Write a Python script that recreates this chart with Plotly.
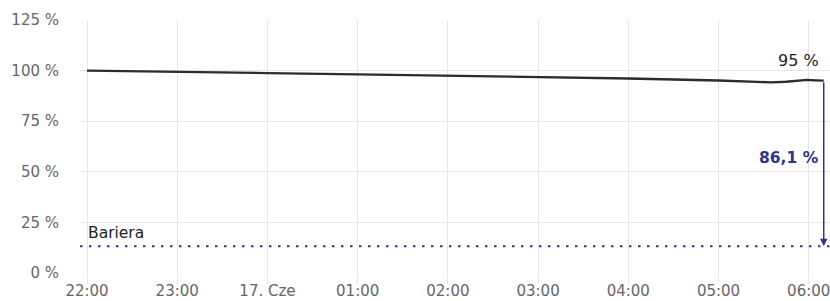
import plotly.graph_objects as go
import pandas as pd

# ---- data ----
times = ["2024-06-16 22:00", "2024-06-16 23:00", "2024-06-17 00:00", "2024-06-17 01:00",
         "2024-06-17 02:00", "2024-06-17 03:00", "2024-06-17 04:00", "2024-06-17 05:00",
         "2024-06-17 05:35", "2024-06-17 05:45", "2024-06-17 05:55", "2024-06-17 05:59",
         "2024-06-17 06:04", "2024-06-17 06:10"]
values = [100.0, 99.5, 98.8, 98.1, 97.5, 96.8, 96.1, 95.1, 94.2, 94.5, 95.0, 95.4, 95.2, 95.0]
barrier = 13.2
barrier_label = "Bariera"
last_label = "95 %"
distance_label = "86,1 %"

tick_vals = ["2024-06-16 22:00", "2024-06-16 23:00", "2024-06-17 00:00", "2024-06-17 01:00",
             "2024-06-17 02:00", "2024-06-17 03:00", "2024-06-17 04:00", "2024-06-17 05:00",
             "2024-06-17 06:00"]
tick_text = ["22:00", "23:00", "17. Cze", "01:00", "02:00", "03:00", "04:00", "05:00", "06:00"]
y_ticks = [0, 25, 50, 75, 100, 125]
y_tick_text = ["0 %", "25 %", "50 %", "75 %", "100 %", "125 %"]

x_range = ["2024-06-16 21:55:20", "2024-06-17 06:14:10"]

navy = "#2f3588"
font_family = "DejaVu Sans"

fig = go.Figure()
fig.add_trace(go.Scatter(
    x=pd.to_datetime(times), y=values, mode="lines",
    line=dict(color="#2b2b30", width=2.3), hoverinfo="skip", showlegend=False))

# barrier line
fig.add_shape(type="line", xref="paper", x0=0, x1=1, yref="y", y0=barrier, y1=barrier,
              line=dict(color=navy, width=2, dash="2.5px,6.5px"))

last_t = pd.to_datetime(times[-1])
last_v = values[-1]

# arrow from last value to barrier
fig.add_annotation(x=last_t, y=barrier, ax=last_t, ay=last_v, xref="x", yref="y",
                   axref="x", ayref="y", text="", showarrow=True, arrowhead=2,
                   arrowsize=1, arrowwidth=1.5, arrowcolor=navy, standoff=0, startstandoff=0)

fig.add_annotation(x=last_t, y=last_v, xref="x", yref="y", text=last_label, showarrow=False,
                   xanchor="right", yanchor="middle", xshift=-3, yshift=20,
                   font=dict(family=font_family, size=16, color="#222222"))
fig.add_annotation(x=last_t, y=(last_v + barrier) / 2, xref="x", yref="y", text="<b>" + distance_label + "</b>",
                   showarrow=False, xanchor="right", yanchor="middle", xshift=-3, yshift=6,
                   font=dict(family=font_family, size=15.5, color=navy))
fig.add_annotation(x=pd.to_datetime(times[0]), y=barrier, xref="x", yref="y", text=barrier_label,
                   showarrow=False, xanchor="left", yanchor="middle", xshift=-1, yshift=13,
                   font=dict(family=font_family, size=15.5, color="#222222"))

fig.update_layout(
    width=830, height=301,
    margin=dict(l=80, r=0, t=20, b=28, autoexpand=False),
    paper_bgcolor="white", plot_bgcolor="white",
    font=dict(family=font_family, size=15, color="#666666"),
    showlegend=False,
)
fig.update_xaxes(
    range=x_range, tickvals=pd.to_datetime(tick_vals), ticktext=tick_text,
    showgrid=True, gridcolor="#e6e6e6", gridwidth=1,
    ticks="outside", ticklen=10, tickcolor="#e6e6e6", tickwidth=1,
    showline=False, zeroline=False, automargin=False, ticklabelstandoff=-6,
    ticklabeloverflow="allow",
    tickfont=dict(family=font_family, size=15, color="#666666"),
)
fig.update_yaxes(
    range=[0, 125], tickvals=y_ticks, ticktext=y_tick_text,
    showgrid=True, gridcolor="#e6e6e6", gridwidth=1,
    zeroline=False, showline=False, ticklabelstandoff=20, automargin=False,
    ticklabeloverflow="allow",
    tickfont=dict(family=font_family, size=15, color="#666666"),
)

fig.write_html(
    "out.html",
    config={"displayModeBar": False},
    post_script="document.body.style.margin='0';document.body.style.overflow='hidden';",
)
